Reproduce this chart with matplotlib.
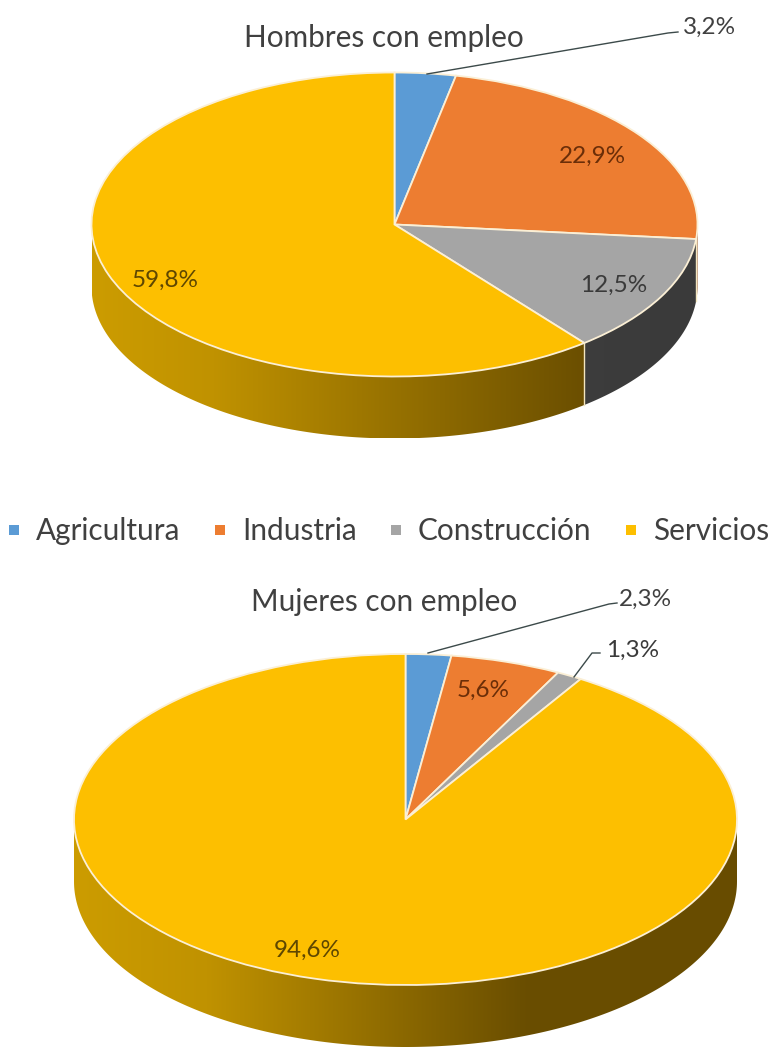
import matplotlib
matplotlib.use("Agg")
import matplotlib.pyplot as plt
import numpy as np
from matplotlib.colors import LinearSegmentedColormap
from matplotlib.lines import Line2D
from matplotlib.patches import Polygon

plt.rcParams["font.family"] = ["Lato", "DejaVu Sans"]

W, H = 771, 1050

categorias = ["Agricultura", "Industria", "Construcción", "Servicios"]
hombres = [3.2, 22.9, 12.5, 59.8]
mujeres = [2.3, 5.6, 1.3, 94.6]
hombres_txt = ["3,2%", "22,9%", "12,5%", "59,8%"]
mujeres_txt = ["2,3%", "5,6%", "1,3%", "94,6%"]

colores = ["#5B9BD5", "#ED7D31", "#A5A5A5", "#FDBF00"]
gris_txt = "#404040"
txt_colores = ["#404040", "#6B2E08", "#3A3A3A", "#5E4700"]
pared = [
    ["#2F5F8A", "#22466A"],
    ["#8F4A1B", "#843C0C"],
    ["#474747", "#3A3A3A"],
    ["#CC9C00", "#C09200", "#6A4E00", "#684C00"],
]


def pared_pie(ax, valores, dy, paradas):
    # pared lateral: solo la parte frontal de cada porcion
    cortes = np.cumsum([0] + valores) / sum(valores) * 360
    for i, v in enumerate(valores):
        a, b = max(cortes[i], 90), min(cortes[i + 1], 270)
        if a >= b:
            continue
        t = np.radians(np.linspace(a, b, 200))
        x, y = np.sin(t), np.cos(t)
        xy = np.r_[np.c_[x, y], np.c_[x[::-1], y[::-1] - dy]]
        parche = Polygon(xy, closed=True, fc="none", ec="none")
        ax.add_patch(parche)
        cmap = LinearSegmentedColormap.from_list(
            "p", list(zip(paradas[i][0], paradas[i][1]))
        )
        im = ax.imshow(
            np.linspace(0, 1, 256)[None, :],
            extent=(-1, 1, -1 - dy, 1),
            cmap=cmap,
            aspect="auto",
            zorder=1,
        )
        im.set_clip_path(parche)
        if i > 0 and 90 < cortes[i] < 270:
            s = np.radians(cortes[i])
            ax.plot(
                [np.sin(s)] * 2,
                [np.cos(s), np.cos(s) - dy],
                color="#F3E6C0",
                lw=1,
                zorder=2,
            )


def dibujar(valores, cx, cy, rx, ry, alto, fin_grad):
    rect = [
        (cx - rx) / W,
        1 - (cy + ry + alto) / H,
        2 * rx / W,
        (2 * ry + alto) / H,
    ]
    ax = fig.add_axes(rect)
    paradas = [([0, 1], pared[j]) for j in range(3)]
    paradas.append(([0, 0.2, fin_grad, 1], pared[3]))
    ax.pie(
        valores,
        colors=colores,
        startangle=90,
        counterclock=False,
        wedgeprops={"edgecolor": "#FBEFD5", "linewidth": 1.3, "zorder": 3},
    )
    dy = alto / ry
    pared_pie(ax, valores, dy, paradas)
    ax.set_aspect("auto")
    ax.set_xlim(-1, 1)
    ax.set_ylim(-1 - dy, 1)
    ax.axis("off")


fig = plt.figure(figsize=(W / 100, H / 100), dpi=100)

dibujar(hombres, 394.5, 224.5, 303, 152, 62, 0.82)
dibujar(mujeres, 405.5, 819.5, 331.5, 165.5, 62, 0.68)

# capa en pixeles para textos y lineas guia
capa = fig.add_axes([0, 0, 1, 1], zorder=5)
capa.set_xlim(0, W)
capa.set_ylim(H, 0)
capa.axis("off")

capa.text(384, 37.5, "Hombres con empleo", ha="center", va="center", fontsize=21.4, color=gris_txt)
capa.text(384.5, 602.5, "Mujeres con empleo", ha="center", va="center", fontsize=21.4, color=gris_txt)

pos_h = [(710, 27), (592, 156), (614, 285), (165, 280)]
pos_m = [(645, 599), (483, 690), (633, 650), (307, 950)]
for textos, pos in [(hombres_txt, pos_h), (mujeres_txt, pos_m)]:
    for s, (x, y), c in zip(textos, pos, txt_colores):
        capa.text(x, y, s, ha="center", va="center", fontsize=17.5, color=c)

guias = [
    ([427, 668, 678], [74, 33, 32]),
    ([428, 609, 617], [653, 604, 603]),
    ([574, 592, 600], [677, 653, 653]),
]
for gx, gy in guias:
    capa.plot(gx, gy, color="#3C4A4A", lw=1)

marcas = [
    Line2D([], [], ls="", marker="s", ms=6.5, color=c, mew=0) for c in colores
]
fig.legend(
    marcas,
    categorias,
    loc="center",
    bbox_to_anchor=(0.503, 1 - 531 / H),
    ncol=4,
    frameon=False,
    fontsize=21.4,
    labelcolor=gris_txt,
    handlelength=0.5,
    handletextpad=0.5,
    columnspacing=1.065,
    borderpad=0,
    borderaxespad=0,
)

fig.savefig("out.png", dpi=100)
